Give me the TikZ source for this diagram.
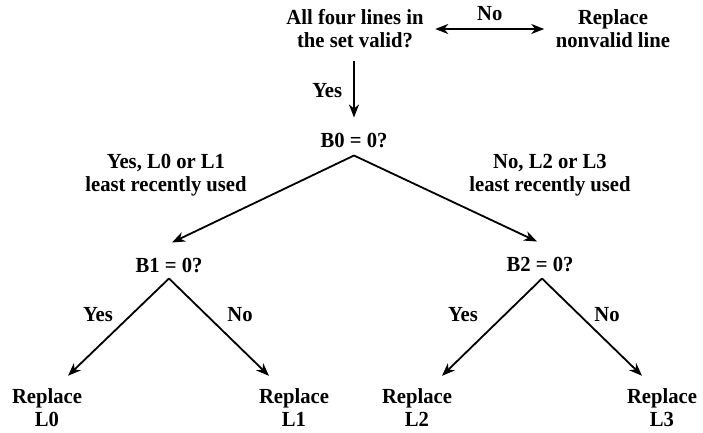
\documentclass[tikz,border=0pt]{standalone}
\usepackage{fontspec}
\setmainfont{Liberation Serif}[FakeStretch=0.96]
\usetikzlibrary{arrows.meta}

\tikzset{
  txt/.style={font=\bfseries\fontsize{21.5}{23}\selectfont, align=center, inner sep=0pt},
  arr/.style={-{Stealth[length=13pt,width=10pt,inset=4pt]}, line width=1.8pt},
  dblarr/.style={{Stealth[length=13pt,width=10pt,inset=4pt]}-{Stealth[length=13pt,width=10pt,inset=4pt]}, line width=1.8pt},
}

\begin{document}
\begin{tikzpicture}[x=1pt, y=-1pt]
  \useasboundingbox (0,0) rectangle (703,432);

  % decision nodes
  \node[txt] (valid) at (355,29) {All four lines in\\the set valid?};
  \node[txt] (nonvalid) at (613,29) {Replace\\nonvalid line};
  \node[txt] (b0) at (354,140) {B0 = 0?};
  \node[txt] (b1) at (169,265) {B1 = 0?};
  \node[txt] (b2) at (540,264) {B2 = 0?};

  % leaves
  \node[txt] (l0) at (47,408) {Replace\\L0};
  \node[txt] (l1) at (294,408) {Replace\\L1};
  \node[txt] (l2) at (417,408) {Replace\\L2};
  \node[txt] (l3) at (662,408) {Replace\\L3};

  % branch labels
  \node[txt] (lru01) at (166,175) {Yes, L0 or L1\\least recently used};
  \node[txt] (lru23) at (550,175) {No, L2 or L3\\least recently used};
  \node[txt] (yes1) at (98,315) {Yes};
  \node[txt] (no1) at (240,315) {No};
  \node[txt] (yes2) at (463,315) {Yes};
  \node[txt] (no2) at (607,315) {No};

  \draw[dblarr, shorten <=11.5pt, shorten >=11.5pt] (valid.east) -- (nonvalid.west)
    node[txt, midway, above=7pt] {No};
  \draw[arr, shorten <=13pt, shorten >=15pt] (valid.south -| b0.north) -- (b0.north)
    node[txt, midway, left=11pt] {Yes};

  \draw[arr] ([yshift=-8pt]b0.south) -- ([xshift=3pt,yshift=15pt]b1.north);
  \draw[arr] ([yshift=-8pt]b0.south) -- ([xshift=-3pt,yshift=15pt]b2.north);

  \draw[arr] ([yshift=-6pt]b1.south) -- ([xshift=21pt,yshift=13pt]l0.north);
  \draw[arr] ([yshift=-6pt]b1.south) -- ([xshift=-25pt,yshift=13pt]l1.north);
  \draw[arr] ([xshift=2pt,yshift=-7pt]b2.south) -- ([xshift=25pt,yshift=13pt]l2.north);
  \draw[arr] ([xshift=2pt,yshift=-7pt]b2.south) -- ([xshift=-20pt,yshift=13pt]l3.north);
\end{tikzpicture}
\end{document}
